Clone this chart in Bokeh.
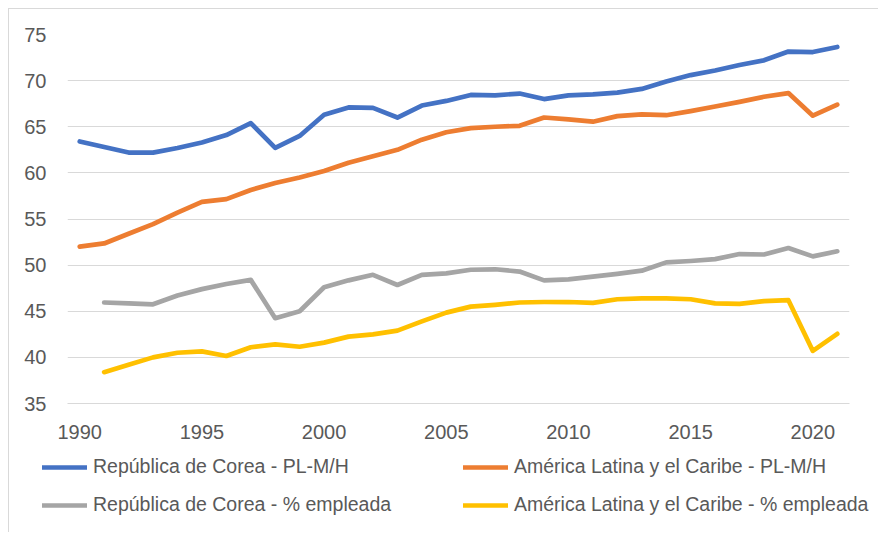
from bokeh.plotting import figure
from bokeh.layouts import column
from bokeh.models import Range1d, FixedTicker, Legend, LegendItem
from bokeh.embed import file_html
from bokeh.resources import INLINE

NaN = float("nan")

years = list(range(1990, 2022))

korea_plmh = [63.4, 62.8, 62.2, 62.2, 62.7, 63.3, 64.1, 65.4, 62.7, 64.0,
              66.3, 67.1, 67.05, 66.0, 67.3, 67.8, 68.45, 68.4, 68.6, 68.0,
              68.4, 68.5, 68.7, 69.1, 69.9, 70.6, 71.1, 71.7, 72.2, 73.15,
              73.1, 73.65]

lac_plmh = [52.0, 52.35, 53.4, 54.45, 55.7, 56.85, 57.15, 58.15, 58.9, 59.5,
            60.2, 61.1, 61.8, 62.5, 63.6, 64.4, 64.85, 65.0, 65.1, 66.0,
            65.8, 65.55, 66.15, 66.35, 66.25, 66.7, 67.2, 67.7, 68.25, 68.65,
            66.2, 67.4]

korea_emp = [NaN, 45.95, 45.85, 45.75, 46.7, 47.4, 47.95, 48.4, 44.25, 45.0,
             47.6, 48.35, 48.95, 47.85, 48.95, 49.1, 49.5, 49.55, 49.3, 48.35,
             48.45, 48.75, 49.05, 49.4, 50.3, 50.45, 50.65, 51.2, 51.15, 51.85,
             50.95, 51.5]

lac_emp = [NaN, 38.4, 39.2, 40.0, 40.5, 40.65, 40.15, 41.1, 41.4, 41.15,
           41.6, 42.25, 42.5, 42.9, 43.9, 44.85, 45.5, 45.7, 45.95, 46.0,
           46.0, 45.9, 46.3, 46.4, 46.4, 46.3, 45.85, 45.8, 46.1, 46.2,
           40.7, 42.55]

series_names = ["República de Corea - PL-M/H",
                "América Latina y el Caribe - PL-M/H",
                "República de Corea - % empleada",
                "América Latina y el Caribe - % empleada"]
series_values = [korea_plmh, lac_plmh, korea_emp, lac_emp]
series_colors = ["#4472C4", "#ED7D31", "#A5A5A5", "#FFC000"]

x_ticks = [1990, 1995, 2000, 2005, 2010, 2015, 2020]
y_ticks = [35, 40, 45, 50, 55, 60, 65, 70, 75]

FONT = "Liberation Sans"
TXT = "#595959"
GRID = "#D9D9D9"
LW = 4.7

# ---- main chart ----
p = figure(width=869, height=438, output_backend="svg", toolbar_location=None,
           x_range=Range1d(1989.5, 2021.5), y_range=Range1d(35, 75),
           min_border_left=58, min_border_right=29, min_border_top=25,
           min_border_bottom=44)
p.frame_align = False
p.outline_line_color = None
p.background_fill_color = "white"
p.border_fill_color = "white"

for vals, col in zip(series_values, series_colors):
    p.line(years, vals, line_color=col, line_width=LW,
           line_cap="round", line_join="round")

p.xgrid.grid_line_color = None
p.ygrid.grid_line_color = GRID
p.ygrid.grid_line_width = 1
p.ygrid.ticker = FixedTicker(ticks=y_ticks)

p.xaxis.ticker = FixedTicker(ticks=x_ticks)
p.yaxis.ticker = FixedTicker(ticks=y_ticks)
for ax in (p.xaxis[0], p.yaxis[0]):
    ax.major_tick_line_color = None
    ax.minor_tick_line_color = None
    ax.major_label_text_font = FONT
    ax.major_label_text_font_size = "20px"
    ax.major_label_text_color = TXT
p.yaxis.axis_line_color = None
p.xaxis.axis_line_color = GRID
p.yaxis.major_label_standoff = 15
p.xaxis.major_label_standoff = 15

# ---- legend strip ----
lf = figure(width=869, height=85, output_backend="svg", toolbar_location=None,
            x_range=Range1d(0, 1), y_range=Range1d(0, 1),
            x_axis_location=None, y_axis_location=None,
            min_border_left=0, min_border_right=0, min_border_top=0,
            min_border_bottom=0)
lf.frame_align = False
lf.grid.visible = False
lf.outline_line_color = None
lf.border_fill_color = "white"
lf.background_fill_color = "white"

proxies = [lf.line(x=[NaN], y=[NaN], line_color=c, line_width=LW, line_cap="round")
           for c in series_colors]

rows = [[0, 1], [2, 3]]
locs = [(33, 54), (33, 16)]
for row, loc in zip(rows, locs):
    items = [LegendItem(label=series_names[i], renderers=[proxies[i]]) for i in row]
    lg = Legend(items=items, orientation="horizontal", location=loc,
                border_line_color=None, background_fill_alpha=0,
                padding=0, margin=0, spacing=0, glyph_width=45,
                glyph_height=20, label_standoff=6, label_width=370,
                label_text_font=FONT, label_text_font_size="19.5px",
                label_text_color=TXT)
    lf.add_layout(lg, "center")

layout = column(p, lf, spacing=0,
                styles={"border-left": "1px solid #D9D9D9",
                        "border-top": "1px solid #D9D9D9",
                        "margin-left": "8px", "margin-top": "8px", "gap": "0px"})

open("out.html", "w").write(file_html(layout, INLINE))
